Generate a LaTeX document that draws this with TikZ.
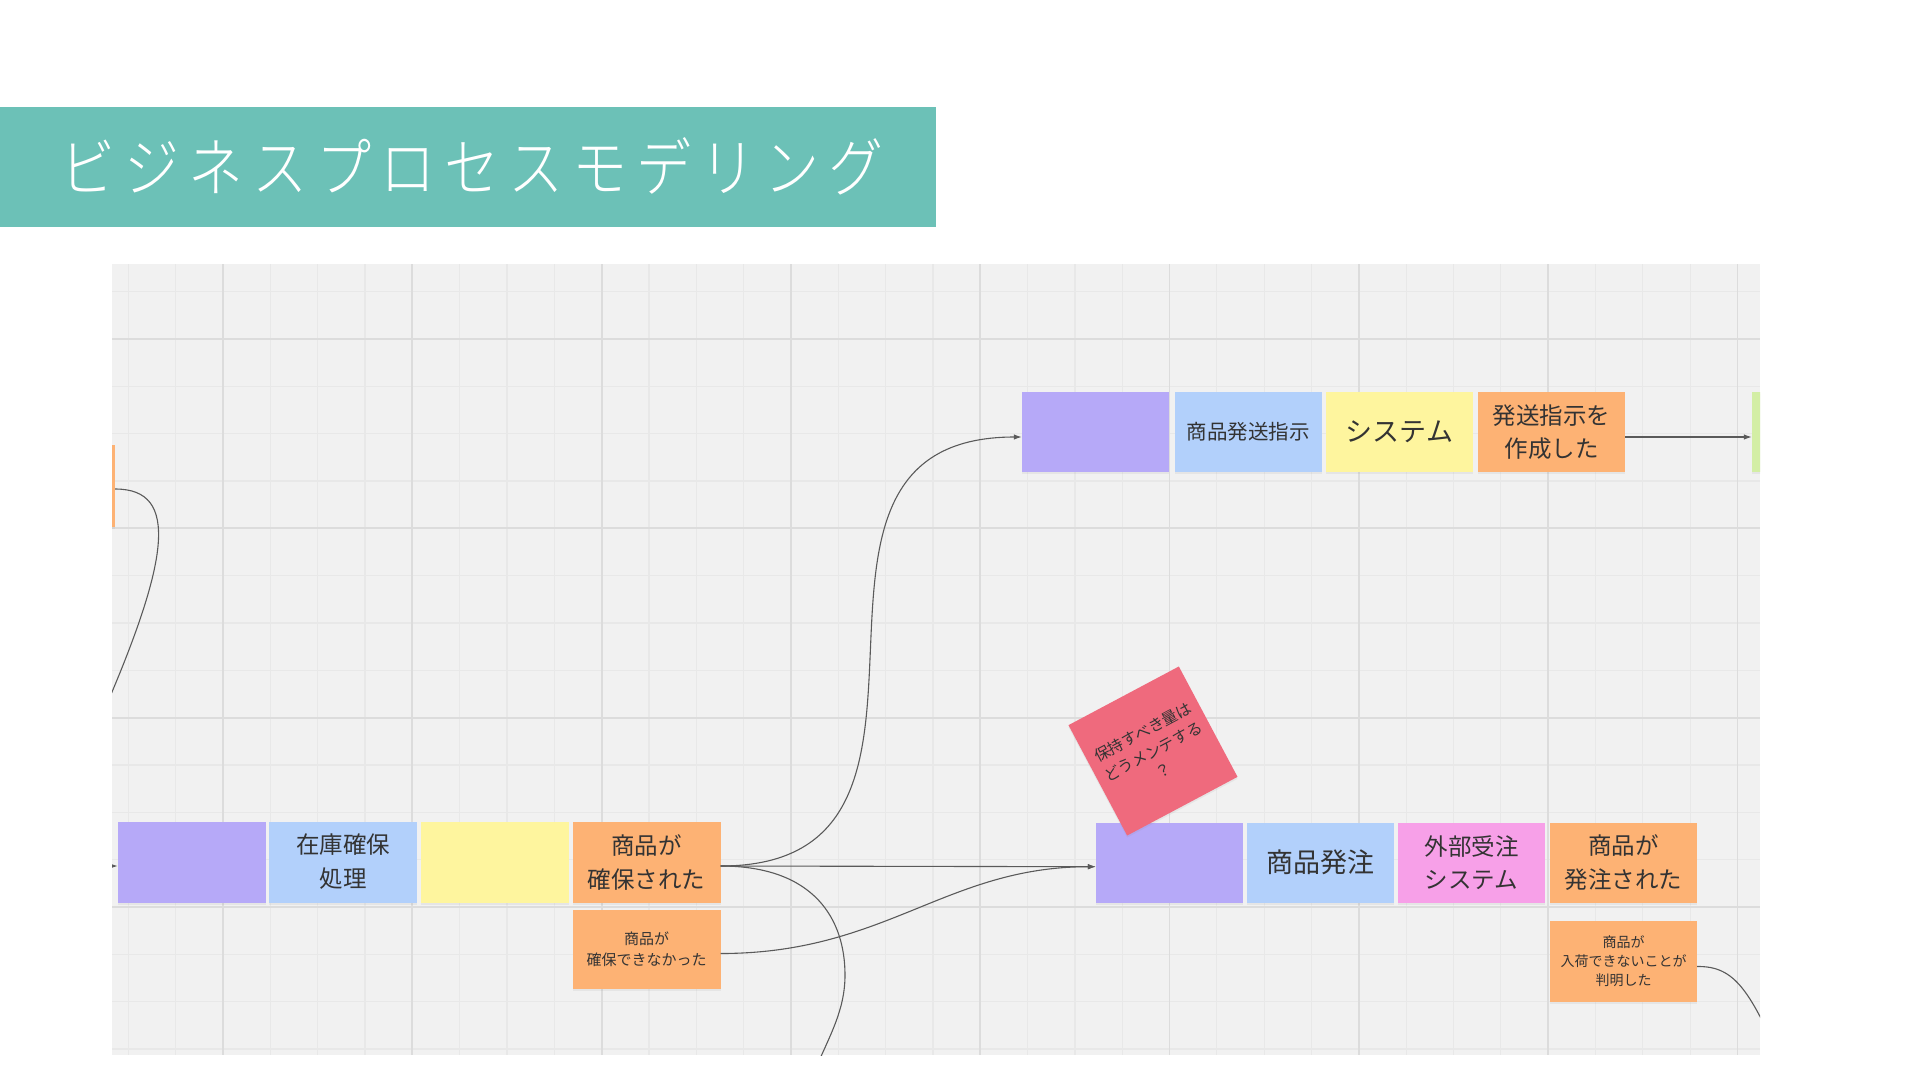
\documentclass[tikz,border=0pt]{standalone}
\usepackage{fontspec}
\newfontfamily\jp{Noto Sans CJK JP}
\IfFontExistsTF{Noto Sans CJK JP Light}
  {\newfontfamily\titlefont{Noto Sans CJK JP Light}[FakeStretch=0.86,LetterSpace=14]}
  {\newfontfamily\titlefont{Noto Sans CJK JP}[FakeStretch=0.86,LetterSpace=14]}
\usetikzlibrary{arrows.meta,shadows}
\definecolor{canvasbg}{HTML}{F1F1F1}
\definecolor{gridminor}{HTML}{E8E8E8}
\definecolor{gridmajor}{HTML}{DCDCDC}
\definecolor{banner}{HTML}{6CC1B7}
\definecolor{npurple}{HTML}{B6A9F8}
\definecolor{nblue}{HTML}{B2D0FB}
\definecolor{nyellow}{HTML}{FEF59E}
\definecolor{norange}{HTML}{FDB274}
\definecolor{npink}{HTML}{F7A0E8}
\definecolor{nred}{HTML}{EF6A7D}
\definecolor{ngreen}{HTML}{D3EEA5}
\definecolor{linegray}{HTML}{5A5A5A}
\definecolor{notetext}{HTML}{333333}
\begin{document}
\begin{tikzpicture}[x=1pt,y=-1pt,
  note/.style={rectangle, inner sep=0pt, minimum width=147pt, minimum height=80pt,
    text=notetext, align=center,
    drop shadow={opacity=0.10, shadow xshift=0pt, shadow yshift=-2pt}},
  fs/.style n args={2}{font=\jp\fontsize{#1}{#2}\selectfont},
  minorline/.style={draw=gridminor, line width=1.2pt},
  majorline/.style={draw=gridmajor, line width=1.8pt},
  conn/.style={draw=linegray, line width=1.1pt},
  arr/.style={conn, -{Latex[length=8pt,width=5.5pt]}}]
\useasboundingbox (0,0) rectangle (1920,1080);
\fill[white] (0,0) rectangle (1920,1080);
% title banner
\fill[banner] (0,107) rectangle (936,227);
\node[anchor=west, inner sep=0pt, text=white, font=\titlefont\fontsize{64}{70}\selectfont] (title) at (60,166) {ビジネスプロセスモデリング};
% canvas
\begin{scope}
\clip (112,264) rectangle (1760,1055);
\fill[canvasbg] (112,264) rectangle (1760,1055);
\foreach \i in {0,...,35} {\draw[minorline] ({128.4+47.325*\i},264) -- ++(0,791);}
\foreach \i in {0,...,16} {\draw[minorline] (112,{291.7+47.325*\i}) -- ++(1648,0);}
\foreach \i in {0,...,8} {\draw[majorline] ({223+189.3*\i},264) -- ++(0,791);}
\foreach \i in {0,...,3} {\draw[majorline] (112,{339+189.3*\i}) -- ++(1648,0);}
% partially visible notes
\node[note, fill=norange, minimum height=82pt] (lo) at (41.5,486) {};
\node[note, fill=ngreen] (tg) at (1825.5,432) {};
\end{scope}
% top row
\node[note, fill=npurple] (tp) at (1095.5,432) {};
\node[note, fill=nblue, fs={20.5}{28}] (tb) at (1248,432) {商品発送指示};
\node[note, fill=nyellow, fs={27}{34}] (ty) at (1399.5,432) {システム};
\node[note, fill=norange, fs={23.5}{33}] (to) at (1551.5,432) {発送指示を\\作成した};
% bottom-left row
\node[note, fill=npurple, minimum width=148pt, minimum height=81pt] (bp) at (192,862) {};
\node[note, fill=nblue, minimum width=148pt, minimum height=81pt, fs={23.5}{34}] (bb) at (343,862) {在庫確保\\処理};
\node[note, fill=nyellow, minimum width=148pt, minimum height=81pt] (by) at (495,862) {};
\node[note, fill=norange, minimum width=148pt, minimum height=81pt, fs={23.5}{34}] (bo) at (646.5,862) {商品が\\確保された};
\node[note, fill=norange, minimum width=148pt, minimum height=79pt, fs={15}{21}] (bo2) at (646.5,949.5) {商品が\\確保できなかった};
% bottom-right row
\node[note, fill=npurple] (rp) at (1169.5,862.7) {};
\node[note, fill=nblue, fs={27}{34}] (rb) at (1320.6,862.7) {商品発注};
\node[note, fill=npink, fs={23.5}{33}] (rk) at (1471.5,862.7) {外部受注\\システム};
\node[note, fill=norange, fs={23.5}{34}] (ro) at (1623.5,862.7) {商品が\\発注された};
\node[note, fill=norange, minimum height=81pt, fs={14}{19}] (ro2) at (1623.5,961.5) {商品が\\入荷できないことが\\判明した};
% rotated question note
\node[note, fill=nred, minimum width=125pt, minimum height=125pt, rotate=28, fs={15.5}{22}] (rq) at (1153,751) {保持すべき量は\\どうメンテする\\？};
% connectors
\coordinate (inL) at (95,866);
\coordinate (leftEnd) at (100,720);
\coordinate (downEnd) at (815,1070);
\coordinate (rightEnd) at (1785,1070);
\begin{scope}
\clip (112,264) rectangle (1760,1055);
\draw[arr] (inL) -- ([yshift=-4pt]bp.west);
\draw[conn] ([yshift=-3pt]lo.east) .. controls (180,489) and (170,560) .. (leftEnd);
\draw[arr] ([yshift=-4pt]bo.east) .. controls +(279,0) and +(-279,0) .. ([yshift=-5pt]tp.west);
\draw[arr] ([yshift=-4pt]bo.east) -- ([yshift=-4pt]rp.west);
\draw[conn] ([yshift=-4pt]bo.east) .. controls (815,866) and (845,920) .. (845,975) .. controls (845,1010) and (830,1035) .. (downEnd);
\draw[arr] ([yshift=-4pt]bo2.east) .. controls +(165,0) and +(-150,0) .. ([yshift=-4pt]rp.west);
\draw[arr] ([yshift=-5pt]to.east) -- ([yshift=-5pt]tg.west);
\draw[conn] ([yshift=-5pt]ro2.east) .. controls (1735,966) and (1750,990) .. (rightEnd);
\end{scope}
\end{tikzpicture}
\end{document}
